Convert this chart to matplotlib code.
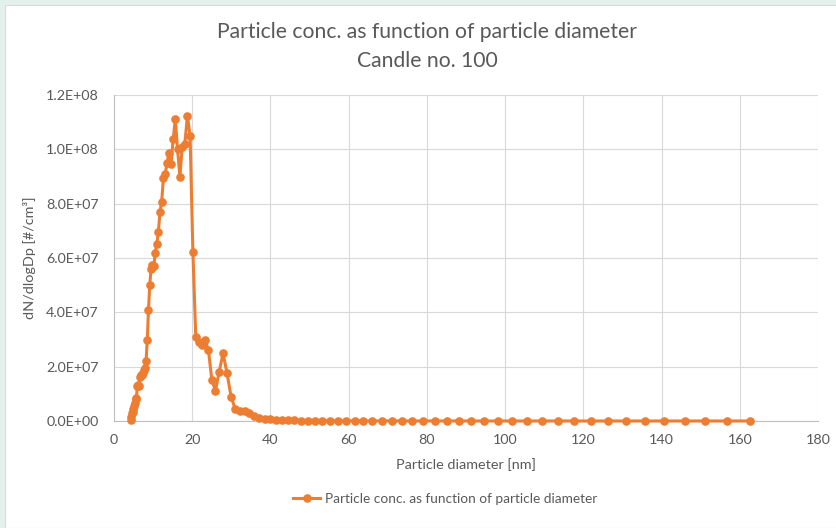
import matplotlib
matplotlib.use("Agg")
import matplotlib.pyplot as plt
from matplotlib.patches import Rectangle
from matplotlib.ticker import FuncFormatter, MultipleLocator

plt.rcParams["font.family"] = ["Lato", "DejaVu Sans"]

# particle diameter bins [nm] and dN/dlogDp [1e6 #/cm3]
diam = [4.29, 4.45, 4.61, 4.78, 4.96, 5.14, 5.33, 5.52, 5.73, 5.94,
        6.15, 6.38, 6.61, 6.85, 7.10, 7.37, 7.64, 7.91, 8.20, 8.51,
        8.82, 9.14, 9.47, 9.82, 10.18, 10.55, 10.94, 11.34, 11.76, 12.19,
        12.63, 13.10, 13.58, 14.07, 14.59, 15.12, 15.68, 16.25, 16.85, 17.46,
        18.10, 18.77, 19.45, 20.17, 20.91, 21.67, 22.47, 23.29, 24.14, 25.02,
        25.94, 26.89, 27.88, 28.90, 29.96, 31.05, 32.19, 33.37, 34.59, 35.86,
        37.17, 38.53, 39.95, 41.41, 42.93, 44.50, 46.13, 47.82, 49.57, 51.38,
        53.26, 55.21, 57.24, 59.33, 61.51, 63.76, 66.09, 68.51, 71.02, 73.62,
        76.32, 79.12, 82.01, 85.02, 88.13, 91.36, 94.70, 98.17, 101.8, 105.5,
        109.4, 113.4, 117.6, 121.9, 126.3, 131.0, 135.8, 140.7, 145.9, 151.2,
        156.8, 162.5]
conc_e6 = [0.2, 1.5, 3.0, 3.3, 4.5, 5.5, 6.5, 8.5, 8.0, 12.8,
           13.3, 13.0, 16.3, 17.0, 16.8, 17.5, 18.8, 19.5, 22.0, 30.0,
           41.0, 50.0, 56.0, 57.5, 57.0, 62.0, 65.0, 69.5, 77.0, 80.7,
           89.5, 91.0, 95.0, 98.8, 94.5, 103.7, 111.0, 100.0, 90.0, 101.0,
           102.0, 112.3, 105.0, 62.3, 30.8, 29.2, 28.0, 29.8, 26.1, 15.1,
           11.2, 18.1, 24.9, 17.6, 8.7, 4.3, 3.6, 3.8, 2.8, 1.8,
           1.2, 0.9, 0.6, 0.45, 0.35, 0.28, 0.22, 0.18, 0.15, 0.12,
           0.10, 0.08, 0.07, 0.06, 0.05, 0.04, 0.04, 0.03, 0.03, 0.03,
           0.02, 0.02, 0.02, 0.02, 0.02, 0.01, 0.01, 0.01, 0.01, 0.01,
           0.01, 0.01, 0.01, 0.01, 0.01, 0.01, 0.01, 0.01, 0.01, 0.01,
           0.01, 0.01]
conc = [c * 1e6 for c in conc_e6]

title = "Particle conc. as function of particle diameter\nCandle no. 100"
series_name = "Particle conc. as function of particle diameter"
orange = "#ED7D31"
grey_txt = "#595959"

fig = plt.figure(figsize=(8.37, 5.28), dpi=100, facecolor="#E3F1EC")
fig.patches.append(Rectangle((5 / 837, 0), 1, 1 - 5 / 528, transform=fig.transFigure,
                             facecolor="white", edgecolor="#D9D9D9", lw=0.8, zorder=-5))

ax = fig.add_axes([114 / 837, 1 - 421 / 528, 704 / 837, 326 / 528])
ax.set_zorder(2)
ax.set_facecolor("none")
ln, = ax.plot(diam, conc, color=orange, lw=2.2, marker="o", ms=6.2,
              markeredgewidth=0, label=series_name, zorder=3, clip_on=False)

ax.set_xlim(0, 180)
ax.set_ylim(0, 1.2e8)
ax.xaxis.set_major_locator(MultipleLocator(20))
ax.yaxis.set_major_locator(MultipleLocator(2e7))
ax.yaxis.set_major_formatter(FuncFormatter(lambda v, p: f"{v:.1E}"))
ax.grid(True, color="#D9D9D9", lw=0.8)
ax.set_axisbelow(True)
for s in ["top", "right"]:
    ax.spines[s].set_visible(False)
for s in ["left", "bottom"]:
    ax.spines[s].set_color("#BFBFBF")
    ax.spines[s].set_linewidth(0.8)
ax.tick_params(length=0, labelsize=10.3, labelcolor=grey_txt)
ax.tick_params(axis="y", pad=11)
ax.tick_params(axis="x", pad=9)

ax.set_xlabel("Particle diameter [nm]", fontsize=10.4, color=grey_txt, labelpad=9)
ax.set_ylabel("dN/dlogDp [#/cm³]", fontsize=10.4, color=grey_txt, labelpad=7)

fig.text(427 / 837, 1 - 46.5 / 528, title, ha="center", va="center", fontsize=15.2,
         color=grey_txt, linespacing=1.55)

fig.legend(handles=[ln], loc="center", bbox_to_anchor=(445 / 837, 1 - 499 / 528),
           frameon=False, fontsize=9.8, labelcolor=grey_txt, handlelength=2.0,
           handletextpad=0.3)

fig.savefig("out.png", dpi=100, facecolor=fig.get_facecolor())
